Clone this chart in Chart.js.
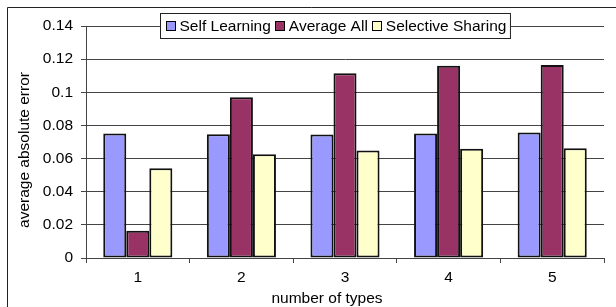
<!DOCTYPE html>
<html>
<head>
<meta charset="utf-8">
<script src="https://cdn.jsdelivr.net/npm/chart.js@4/dist/chart.umd.min.js"></script>
<style>
  html, body { margin: 0; padding: 0; background: #fff; overflow: hidden; }
  #wrap { position: relative; width: 616px; height: 307px; }
</style>
</head>
<body>
<div id="wrap"><canvas id="c" width="616" height="307"></canvas></div>
<script>
const categories = ['1', '2', '3', '4', '5'];
const seriesNames = ['Self Learning', 'Average All', 'Selective Sharing'];
const selfLearning = [0.0752, 0.0747, 0.0746, 0.0751, 0.0757];
const averageAll = [0.0165, 0.0970, 0.1115, 0.1160, 0.1165];
const selectiveSharing = [0.0542, 0.0626, 0.0648, 0.0660, 0.0663];
const yAxisTitle = 'average absolute error';
const xAxisTitle = 'number of types';

const FONT = "'Liberation Sans', Arial, sans-serif";
const FSIZE = 15.5;
Chart.defaults.font.family = FONT;
Chart.defaults.font.size = FSIZE;
Chart.defaults.color = '#000';

const frameAndLegend = {
  id: 'frameAndLegend',
  afterDraw(chart) {
    const ctx = chart.ctx;
    ctx.save();
    // outer frame (top and left edges visible)
    ctx.strokeStyle = '#222';
    ctx.lineWidth = 1;
    ctx.beginPath();
    ctx.moveTo(7.5, chart.height);
    ctx.lineTo(7.5, 7.5);
    ctx.lineTo(chart.width, 7.5);
    ctx.stroke();

    // axis titles
    ctx.font = FSIZE + 'px ' + FONT;
    ctx.fillStyle = '#000';
    ctx.textAlign = 'center';
    ctx.textBaseline = 'middle';
    ctx.fillText(xAxisTitle, 327, 299);
    ctx.save();
    ctx.translate(25, 150);
    ctx.rotate(-Math.PI / 2);
    ctx.fillText(yAxisTitle, 0, 0);
    ctx.restore();

    // legend
    const sw = 10, gap = 4, itemGap = 4, padL = 5, padR = 4;
    const items = chart.data.datasets.map(ds => ({
      label: ds.label, fill: ds.backgroundColor, w: ctx.measureText(ds.label).width
    }));
    let total = padL + padR;
    items.forEach((it, i) => { total += sw + gap + it.w + (i < items.length - 1 ? itemGap : 0); });
    const cx = 334.5;
    const left = Math.round(cx - total / 2) + 0.5;
    const top = 13.5, h = 25;
    ctx.fillStyle = '#fff';
    ctx.fillRect(left, top, total, h);
    ctx.strokeStyle = '#222';
    ctx.strokeRect(left, top, total, h);
    let x = left + padL;
    const midY = top + h / 2;
    items.forEach(it => {
      ctx.fillStyle = it.fill;
      ctx.fillRect(Math.round(x), Math.round(midY - sw / 2), sw, sw);
      ctx.strokeStyle = '#000';
      ctx.strokeRect(Math.round(x) + 0.5, Math.round(midY - sw / 2) + 0.5, sw - 1, sw - 1);
      x += sw + gap;
      ctx.fillStyle = '#000';
      ctx.textBaseline = 'middle';
      ctx.textAlign = 'left';
      ctx.fillText(it.label, x, midY + 0.5);
      x += it.w + itemGap;
    });
    ctx.restore();
  }
};

new Chart(document.getElementById('c'), {
  type: 'bar',
  data: {
    labels: categories,
    datasets: [
      { label: seriesNames[0], data: selfLearning, backgroundColor: '#9999FF' },
      { label: seriesNames[1], data: averageAll, backgroundColor: '#993366' },
      { label: seriesNames[2], data: selectiveSharing, backgroundColor: '#FFFFCC' }
    ]
  },
  options: {
    responsive: false,
    devicePixelRatio: 1,
    animation: false,
    layout: { padding: { left: 0, top: 26, right: 12, bottom: 0 } },
    categoryPercentage: 0.667,
    barPercentage: 1.0,
    elements: { bar: { borderColor: '#111', borderWidth: 2, borderSkipped: false } },
    plugins: { legend: { display: false }, tooltip: { enabled: false } },
    scales: {
      x: {
        offset: true,
        grid: { offset: true, drawOnChartArea: false, drawTicks: true, tickLength: 5, color: '#444' },
        border: { display: true, color: '#444', width: 1 },
        ticks: { padding: 5, color: '#000', font: { size: FSIZE } },
        title: { display: false },
        afterFit(scale) { scale.height = 49; }
      },
      y: {
        min: 0, max: 0.14,
        grid: { drawOnChartArea: true, drawTicks: true, tickLength: 5, color: '#444' },
        border: { display: true, color: '#444', width: 1 },
        ticks: {
          stepSize: 0.02, padding: 8, color: '#000', font: { size: FSIZE },
          callback: v => String(Number(v.toFixed(2)))
        },
        title: { display: false },
        afterFit(scale) { scale.width = 86; }
      }
    }
  },
  plugins: [frameAndLegend]
});
</script>
</body>
</html>
